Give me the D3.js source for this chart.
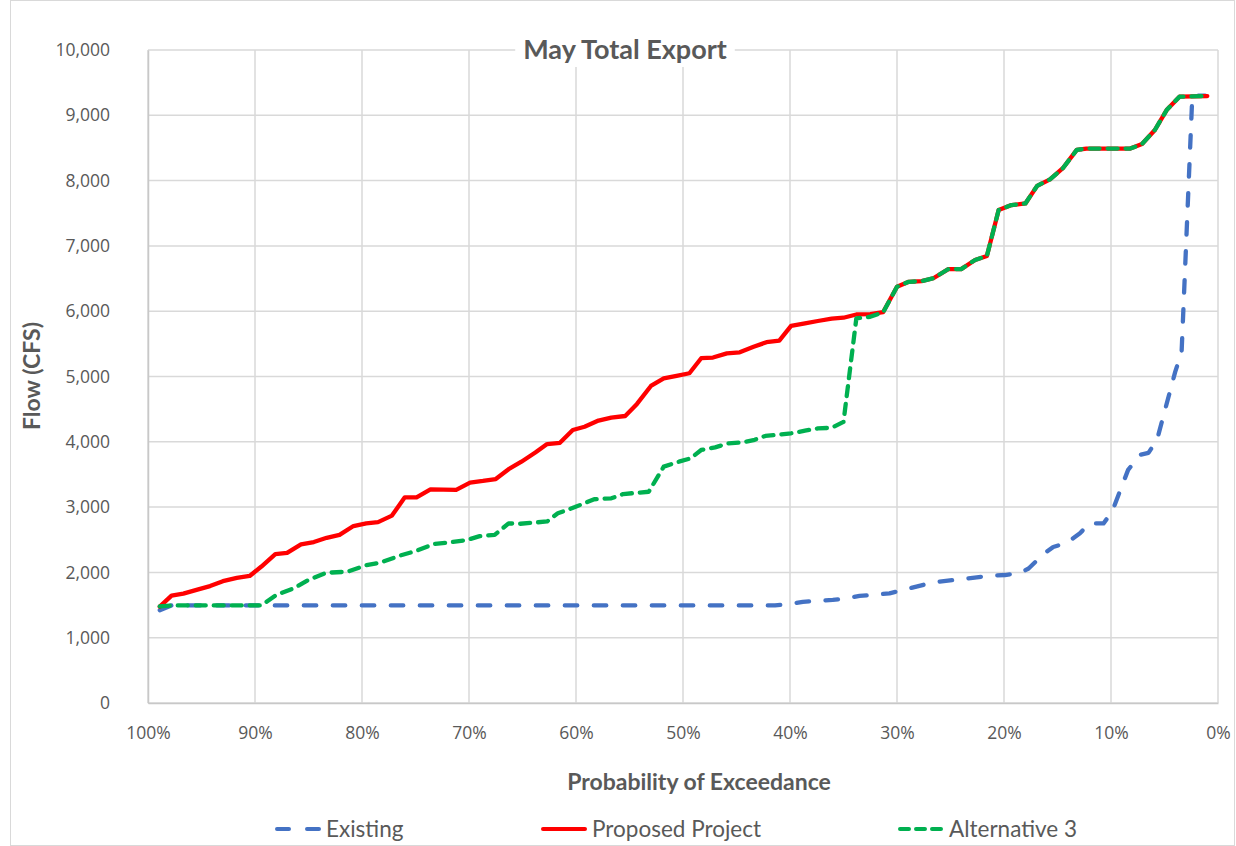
<!DOCTYPE html>
<html>
<head>
<meta charset="utf-8">
<script src="https://cdn.jsdelivr.net/npm/d3@7"></script>
<style>
  body { margin: 0; background: #fff; }
  text { font-family: Lato, "Open Sans", sans-serif; fill: #595959; }
</style>
</head>
<body>
<svg id="chart" width="1236" height="846"></svg>
<script>
// exceedance (%) / flow (cfs) pairs
const existing = [
  [98.9,1420],[97.8,1495],[41.4,1495],[40.0,1515],[38.8,1550],[36.0,1580],[34.8,1600],
  [33.5,1640],[31.6,1665],[30.7,1680],[29.1,1745],[26.6,1848],[23.8,1900],[21.3,1950],
  [19.9,1960],[18.5,1990],[17.7,2060],[16.3,2280],[15.4,2390],[14.1,2455],[12.9,2600],
  [12.0,2750],[10.7,2750],[9.9,2930],[8.4,3570],[7.3,3800],[6.5,3830],[5.7,4030],
  [4.0,5070],[3.4,5380],[2.4,9300],[1.2,9300]
];
const proposed = [
  [98.9,1475],[97.8,1645],[96.7,1675],[95.3,1740],[94.2,1790],[93.0,1865],[91.7,1915],
  [90.5,1945],[89.4,2090],[88.1,2280],[87.0,2300],[85.7,2430],[84.5,2465],[83.3,2530],
  [82.1,2575],[80.8,2710],[79.6,2750],[78.5,2770],[77.2,2870],[76.0,3150],[74.9,3150],
  [73.6,3270],[71.2,3265],[69.9,3375],[68.7,3400],[67.5,3430],[66.3,3580],[65.1,3695],
  [63.8,3835],[62.7,3965],[61.5,3985],[60.3,4180],[59.2,4230],[57.9,4325],[56.7,4370],
  [55.4,4395],[54.3,4580],[53.0,4855],[51.8,4970],[50.6,5010],[49.4,5050],[48.3,5280],
  [47.2,5290],[45.9,5355],[44.7,5370],[43.4,5455],[42.2,5525],[41.0,5550],[39.9,5775],
  [38.6,5815],[37.4,5850],[36.1,5885],[35.0,5900],[33.8,5950],[32.5,5955],[31.3,5985],
  [30.0,6375],[28.9,6450],[27.7,6460],[26.6,6505],[25.2,6645],[24.0,6645],[22.7,6785],
  [21.6,6845],[20.5,7550],[19.3,7625],[18.0,7650],[16.9,7920],[15.7,8020],[14.5,8190],
  [13.2,8470],[12.3,8490],[8.2,8490],[7.1,8560],[5.9,8775],[4.8,9080],[3.6,9285],[1.0,9295]
];
const alternative3 = [
  [98.9,1480],[97.8,1495],[89.4,1495],[88.0,1655],[86.4,1755],[85.0,1885],[83.3,1995],
  [81.4,2010],[79.6,2110],[78.3,2150],[76.4,2260],[75.0,2325],[73.3,2435],[71.8,2460],
  [70.2,2495],[69.0,2555],[67.6,2575],[66.3,2750],[65.2,2745],[62.7,2780],[61.7,2905],
  [60.1,3000],[58.3,3120],[56.7,3135],[55.6,3200],[53.2,3235],[51.8,3620],[50.3,3700],
  [49.3,3745],[48.3,3875],[47.0,3915],[45.8,3975],[44.5,3990],[43.3,4030],[42.3,4090],
  [39.9,4130],[38.6,4170],[37.4,4205],[36.1,4215],[35.0,4305],[33.8,5890],[32.5,5915],
  [31.3,5980],[30.0,6375],[28.9,6450],[27.7,6460],[26.6,6505],[25.2,6645],[24.0,6645],
  [22.7,6785],[21.6,6845],[20.5,7550],[19.3,7625],[18.0,7650],[16.9,7920],[15.7,8020],
  [14.5,8190],[13.2,8470],[12.3,8490],[8.2,8490],[7.1,8560],[5.9,8775],[4.8,9080],
  [3.6,9285],[1.0,9295]
];
const xTicks = [100,90,80,70,60,50,40,30,20,10,0];
const yTicks = [0,1000,2000,3000,4000,5000,6000,7000,8000,9000,10000];
const seriesNames = ["Existing","Proposed Project","Alternative 3"];

const svg = d3.select("#chart");
const plotLeft = 148, plotRight = 1218, plotTop = 50, plotBottom = 703;

// light chart border
svg.append("rect")
  .attr("x", 10.5).attr("y", 0.5).attr("width", 1224).attr("height", 845)
  .attr("fill", "none").attr("stroke", "#D9D9D9");

const x = d3.scaleLinear().domain([100, 0]).range([plotLeft, plotRight]);
const y = d3.scaleLinear().domain([0, 10000]).range([plotBottom, plotTop]);

// gridlines
svg.append("g").selectAll("line").data(yTicks).join("line")
  .attr("x1", plotLeft).attr("x2", plotRight)
  .attr("y1", d => y(d)).attr("y2", d => y(d))
  .attr("stroke", "#D9D9D9").attr("stroke-width", 1.5);
svg.append("g").selectAll("line").data(xTicks).join("line")
  .attr("x1", d => x(d)).attr("x2", d => x(d))
  .attr("y1", plotTop).attr("y2", plotBottom)
  .attr("stroke", "#D9D9D9").attr("stroke-width", 1.5);

// axes
const xAxis = svg.append("g").attr("transform", `translate(0,${plotBottom})`)
  .call(d3.axisBottom(x).tickValues(xTicks).tickFormat(d => d + "%").tickSize(0).tickPadding(24));
const yAxis = svg.append("g").attr("transform", `translate(${plotLeft},0)`)
  .call(d3.axisLeft(y).tickValues(yTicks).tickFormat(d3.format(",")).tickSize(0).tickPadding(38));
[xAxis, yAxis].forEach(a => {
  a.select(".domain").attr("stroke", "#C8C8C8").attr("stroke-width", 1.5);
  a.selectAll("text").attr("font-size", 17.5).attr("fill", "#595959")
    .style("font-family", "'Open Sans', 'Noto Sans', sans-serif");
});

// series
const line = d3.line().x(d => x(d[0])).y(d => y(d[1]));
const styles = [
  {data: existing, color: "#4472C4", dash: "12.5,16.5", cap: "round"},
  {data: proposed, color: "#FF0000", dash: null, cap: "round"},
  {data: alternative3, color: "#00B050", dash: "10,8", cap: "round"}
];
styles.forEach(s => {
  svg.append("path").datum(s.data)
    .attr("d", line)
    .attr("fill", "none")
    .attr("stroke", s.color)
    .attr("stroke-width", 4.3)
    .attr("stroke-linejoin", "round")
    .attr("stroke-linecap", s.cap)
    .attr("stroke-dasharray", s.dash);
});

// title with white box over the grid
const title = svg.append("text")
  .attr("x", 625).attr("y", 59)
  .attr("text-anchor", "middle")
  .attr("font-size", 27).attr("font-weight", "bold")
  .text("May Total Export");
const tb = title.node().getBBox();
svg.insert("rect", () => title.node())
  .attr("x", tb.x - 8).attr("y", tb.y - 2)
  .attr("width", tb.width + 16).attr("height", tb.height + 4)
  .attr("fill", "#fff");

// axis titles
svg.append("text")
  .attr("transform", "translate(40,376) rotate(-90)")
  .attr("text-anchor", "middle")
  .attr("font-size", 23).attr("font-weight", "bold")
  .text("Flow (CFS)");
svg.append("text")
  .attr("x", 699).attr("y", 790)
  .attr("text-anchor", "middle")
  .attr("font-size", 23).attr("font-weight", "bold")
  .text("Probability of Exceedance");

// legend
const legendX = [275, 541, 898];
const legend = svg.append("g").selectAll("g").data(styles).join("g")
  .attr("transform", (d, i) => `translate(${legendX[i]},829)`);
legend.append("line")
  .attr("x1", 2).attr("x2", 44)
  .attr("stroke", d => d.color).attr("stroke-width", 4)
  .attr("stroke-linecap", d => d.cap)
  .attr("stroke-dasharray", (d, i) => i === 0 ? "12,18" : i === 2 ? "9,7" : null);
legend.append("text")
  .attr("x", 51).attr("y", 8)
  .attr("font-size", 22.5)
  .text((d, i) => seriesNames[i]);
</script>
</body>
</html>
